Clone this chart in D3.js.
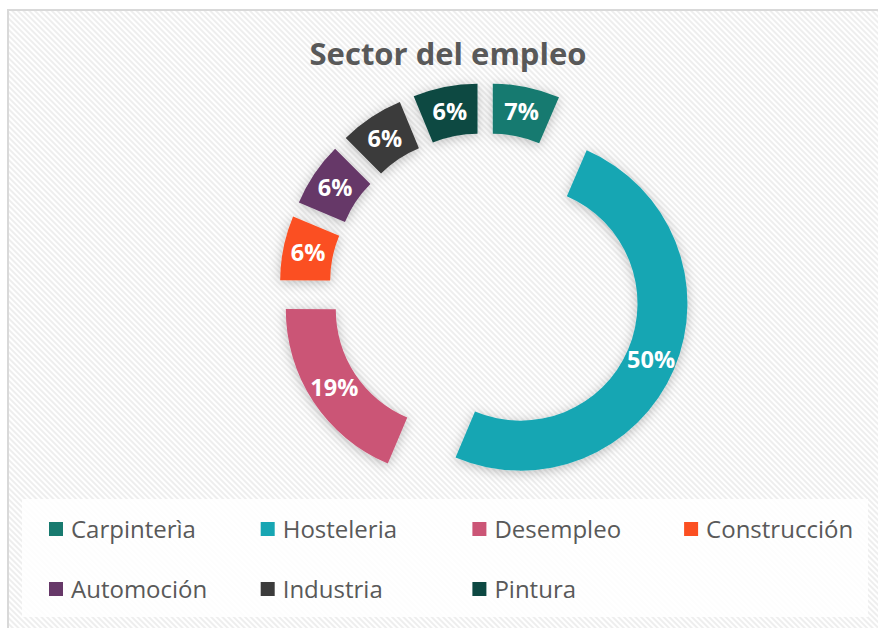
<!DOCTYPE html>
<meta charset="utf-8">
<style>
body {
  margin: 0;
  background: #fff;
}
.title {
  font-family: "Open Sans", sans-serif;
  font-weight: bold;
  font-size: 31px;
  fill: #595959;
}
.label {
  font-family: "Open Sans", sans-serif;
  font-weight: bold;
  font-size: 23.5px;
  fill: #fff;
}
.legend text {
  font-family: "Open Sans", sans-serif;
  font-size: 24px;
  fill: #595959;
}
</style>
<body>
<script src="https://d3js.org/d3.v7.min.js"></script>
<script>

var width = 878,
    height = 628;

// data (percent of respondents)
var categories = ["Carpinterìa", "Hosteleria", "Desempleo", "Construcción", "Automoción", "Industria", "Pintura"];
var values = [6.5, 50, 18.75, 6.25, 6.25, 6.25, 6.25];
var colors = ["#187a6f", "#17a6b3", "#cb5576", "#fb4f21", "#663868", "#3b3b3b", "#0d4842"];

var cx = 485, cy = 288.5,
    outer = 167, inner = 117,
    explode = 38.6;

var svg = d3.select("body").append("svg")
    .attr("width", width)
    .attr("height", height);

var defs = svg.append("defs");

// diagonal stripes of the chart area
defs.append("pattern")
    .attr("id", "stripes")
    .attr("patternUnits", "userSpaceOnUse")
    .attr("width", 4)
    .attr("height", 4)
    .attr("patternTransform", "rotate(-45)")
  .append("rect")
    .attr("width", 2)
    .attr("height", 4)
    .attr("fill", "#eeeeee");

var shadow = defs.append("filter")
    .attr("id", "shadow")
    .attr("x", "-30%").attr("y", "-30%")
    .attr("width", "160%").attr("height", "160%");
shadow.append("feDropShadow")
    .attr("dx", 0)
    .attr("dy", 2)
    .attr("stdDeviation", 6)
    .attr("flood-color", "#000")
    .attr("flood-opacity", 0.25);

svg.append("rect")
    .attr("x", 8)
    .attr("y", 10)
    .attr("width", width + 10)
    .attr("height", height + 10)
    .attr("fill", "#fff")
    .attr("stroke", "#d9d9d9")
    .attr("stroke-width", 2);

svg.append("rect")
    .attr("x", 9)
    .attr("y", 11)
    .attr("width", width + 10)
    .attr("height", height + 10)
    .attr("fill", "url(#stripes)");

svg.append("text")
    .attr("class", "title")
    .attr("x", 448)
    .attr("y", 65)
    .attr("text-anchor", "middle")
    .text("Sector del empleo");

var data = categories.map(function(c, i) {
  return {name: c, value: values[i], color: colors[i]};
});

var pie = d3.pie()
    .sort(null)
    .value(function(d) { return d.value; });

var arc = d3.arc()
    .innerRadius(inner)
    .outerRadius(outer);

var slices = svg.append("g")
    .attr("transform", "translate(" + cx + "," + cy + ")")
  .selectAll(".slice")
    .data(pie(data))
  .enter().append("g")
    .attr("class", "slice")
    .attr("transform", function(d) {
      var mid = (d.startAngle + d.endAngle) / 2;
      return "translate(" + Math.sin(mid) * explode + "," + (-Math.cos(mid) * explode) + ")";
    });

slices.append("path")
    .attr("d", arc)
    .attr("fill", function(d) { return d.data.color; })
    .attr("filter", "url(#shadow)");

slices.append("text")
    .attr("class", "label")
    .attr("transform", function(d) { return "translate(" + arc.centroid(d) + ")"; })
    .attr("text-anchor", "middle")
    .attr("dy", "0.36em")
    .text(function(d) { return Math.round(d.data.value) + "%"; });

// legend
var legend = svg.append("g")
    .attr("class", "legend");

legend.append("rect")
    .attr("x", 22)
    .attr("y", 499)
    .attr("width", 846)
    .attr("height", 118)
    .attr("fill", "#fff")
    .attr("fill-opacity", 0.85);

var item = legend.selectAll(".item")
    .data(data)
  .enter().append("g")
    .attr("class", "item")
    .attr("transform", function(d, i) {
      return "translate(" + (49 + (i % 4) * 211.7) + "," + (529 + Math.floor(i / 4) * 60) + ")";
    });

item.append("rect")
    .attr("y", -7)
    .attr("width", 14)
    .attr("height", 14)
    .attr("fill", function(d) { return d.color; });

item.append("text")
    .attr("x", 22)
    .attr("dy", "0.36em")
    .text(function(d) { return d.name; });

</script>
